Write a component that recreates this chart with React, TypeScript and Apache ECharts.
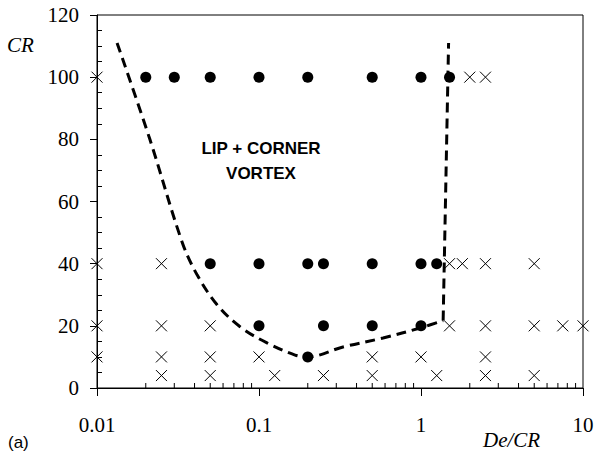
import React, { useEffect, useRef } from "react";
import * as echarts from "echarts";

// Filled circles: "lip + corner vortex" observed, [De/CR, CR]
const dotPoints: [number, number][] = [
  [0.02, 100], [0.03, 100], [0.05, 100], [0.1, 100], [0.2, 100], [0.5, 100], [1, 100], [1.5, 100],
  [0.05, 40], [0.1, 40], [0.2, 40], [0.25, 40], [0.5, 40], [1, 40], [1.25, 40],
  [0.1, 20], [0.25, 20], [0.5, 20], [1, 20],
  [0.2, 10],
];

// Crosses: not observed, [De/CR, CR]
const crossPoints: [number, number][] = [
  [0.01, 100], [2, 100], [2.5, 100],
  [0.01, 40], [0.025, 40], [1.5, 40], [1.8, 40], [2.5, 40], [5, 40],
  [0.01, 20], [0.025, 20], [0.05, 20], [1.5, 20], [2.5, 20], [5, 20], [7.5, 20], [10, 20],
  [0.01, 10], [0.025, 10], [0.05, 10], [0.1, 10], [0.5, 10], [1, 10], [2.5, 10],
  [0.025, 4], [0.05, 4], [0.125, 4], [0.25, 4], [0.5, 4], [1.25, 4], [2.5, 4], [5, 4],
];

// Dashed boundary: curved lower part, then near-vertical part
const curveX = [0.0133, 0.0212, 0.0335, 0.0414, 0.0551, 0.0764, 0.112, 0.167, 0.2, 0.33, 0.583, 1.0, 1.37];
const curveY = [111, 80, 47, 36.5, 26.8, 19.7, 14.5, 10.6, 10, 13.2, 16.1, 19.4, 21.7];
const verticalX = [1.37, 1.48];
const verticalY = [21.7, 111];

// Log-axis minor tick positions (2..9 in each decade)
const decades = [0.01, 0.1, 1];
const minorMultipliers = [2, 3, 4, 5, 6, 7, 8, 9];

const xTickLabels: Record<string, string> = { "0.01": "0.01", "0.1": "0.1", "1": "1", "10": "10" };

export default function App() {
  const ref = useRef<HTMLDivElement>(null);
  useEffect(() => {
    if (!ref.current) return;
    const chart = echarts.init(ref.current, null, { renderer: "svg" });
    const minorTicks: number[] = [];
    decades.forEach((d) => minorMultipliers.forEach((m) => minorTicks.push(+(d * m).toPrecision(3))));
    const serif = "Liberation Serif";
    const sans = "Liberation Sans";
    const crossPath = "path://M0,0L10,10M10,0L0,10";
    const dashed = { color: "#000", width: 3, type: [10, 6] };

    chart.setOption({
      animation: false,
      backgroundColor: "#ffffff",
      grid: {
        left: 97, right: 14, top: 15, bottom: 78,
        show: true, borderColor: "#000", borderWidth: 1,
      },
      xAxis: {
        type: "log",
        logBase: 10,
        min: 0.01,
        max: 10,
        axisLine: { show: true, lineStyle: { color: "#000", width: 1 } },
        axisTick: { show: true, length: 8, inside: false, lineStyle: { color: "#000" } },
        splitLine: { show: false },
        axisLabel: {
          color: "#000", fontFamily: serif, fontSize: 21, margin: 26,
          formatter: (v: number) => xTickLabels[String(v)] ?? String(v),
        },
      },
      yAxis: [
        {
          type: "value",
          min: 0, max: 120, interval: 20,
          axisLine: { show: true, lineStyle: { color: "#000", width: 1 } },
          axisTick: { show: true, length: 7, inside: false, lineStyle: { color: "#000" } },
          splitLine: { show: false },
          axisLabel: { color: "#000", fontFamily: serif, fontSize: 21, margin: 18 },
        },
        {
          type: "value",
          position: "left",
          min: 0, max: 120, interval: 20,
          axisLine: { show: false },
          axisTick: { show: false, inside: true },
          axisLabel: { show: false },
          splitLine: { show: false },
          minorTick: { show: true, splitNumber: 4, length: 5, lineStyle: { color: "#000", width: 1 } },
        },
      ],
      graphic: [
        { type: "text", left: 7, top: 34, style: { text: "CR", fontFamily: serif, fontStyle: "italic", fontSize: 21, fill: "#000" } },
        { type: "text", left: 483, top: 429, style: { text: "De/CR", fontFamily: serif, fontStyle: "italic", fontSize: 21, fill: "#000" } },
        { type: "text", left: 8, top: 434, style: { text: "(a)", fontFamily: sans, fontSize: 17, fill: "#000" } },
        {
          type: "text", x: 261, y: 148,
          style: { text: "LIP + CORNER", fontFamily: sans, fontWeight: "bold", fontSize: 17, fill: "#000", align: "center", verticalAlign: "middle" },
        },
        {
          type: "text", x: 261, y: 173,
          style: { text: "VORTEX", fontFamily: sans, fontWeight: "bold", fontSize: 17, fill: "#000", align: "center", verticalAlign: "middle" },
        },
      ],
      series: [
        {
          type: "custom",
          name: "minorTicks",
          coordinateSystem: "cartesian2d",
          silent: true,
          clip: false,
          data: minorTicks.map((v) => [v, 0]),
          renderItem: (params: any, api: any) => {
            const p = api.coord([api.value(0), 0]);
            return {
              type: "line",
              shape: { x1: p[0], y1: p[1], x2: p[0], y2: p[1] - 5 },
              style: { stroke: "#000", lineWidth: 1 },
            };
          },
        },
        {
          type: "line",
          name: "boundaryCurve",
          data: curveX.map((x, i) => [x, curveY[i]]),
          showSymbol: false,
          symbol: "none",
          smooth: 0.35,
          lineStyle: dashed,
          z: 3,
        },
        {
          type: "line",
          name: "boundaryVertical",
          data: verticalX.map((x, i) => [x, verticalY[i]]),
          showSymbol: false,
          symbol: "none",
          lineStyle: dashed,
          z: 3,
        },
        {
          type: "scatter",
          name: "vortex",
          data: dotPoints,
          symbol: "circle",
          symbolSize: 11,
          clip: false,
          itemStyle: { color: "#000", opacity: 1 },
          z: 4,
        },
        {
          type: "scatter",
          name: "none",
          data: crossPoints,
          symbol: crossPath,
          symbolSize: 11,
          clip: false,
          itemStyle: { color: "transparent", borderColor: "#000", borderWidth: 1, opacity: 1 },
          z: 4,
        },
      ],
    });
    return () => chart.dispose();
  }, []);
  return <div ref={ref} style={{ width: 597, height: 466, position: "absolute", left: 0, top: 0 }} />;
}
